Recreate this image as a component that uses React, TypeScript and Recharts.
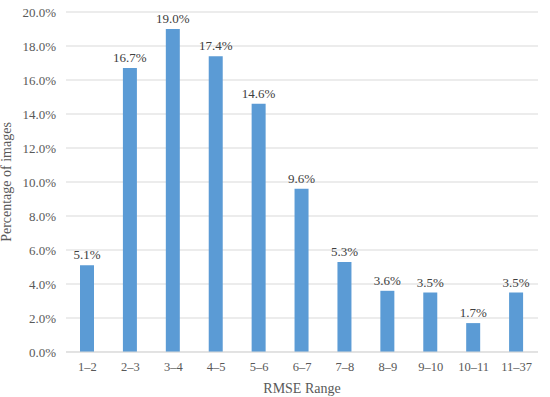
import { BarChart, Bar, XAxis, YAxis, CartesianGrid, LabelList } from 'recharts';

const ranges = ['1–2', '2–3', '3–4', '4–5', '5–6', '6–7', '7–8', '8–9', '9–10', '10–11', '11–37'];
const percentages = [5.1, 16.7, 19.0, 17.4, 14.6, 9.6, 5.3, 3.6, 3.5, 1.7, 3.5];
const yTicks = [0, 2, 4, 6, 8, 10, 12, 14, 16, 18, 20];

const data = ranges.map((range, i) => ({ range, value: percentages[i] }));

const FONT = '"Liberation Serif", "Times New Roman", serif';

export default function App() {
  return (
    <div style={{ position: 'absolute', left: 0, top: 0, width: 550, height: 397, background: '#fff' }}>
      <BarChart
        width={550}
        height={397}
        data={data}
        margin={{ top: 12, right: 12, left: 0, bottom: 0 }}
      >
        <CartesianGrid vertical={false} stroke="#d9d9d9" strokeWidth={1} />
        <XAxis
          dataKey="range"
          height={45}
          tickLine={false}
          axisLine={{ stroke: '#d9d9d9', strokeWidth: 1 }}
          tick={{ fill: '#595959', fontSize: 12.5, fontFamily: FONT }}
          tickMargin={4}
          interval={0}
          label={{
            value: 'RMSE Range',
            position: 'insideBottom',
            offset: 4,
            fill: '#595959',
            fontSize: 14,
            fontFamily: FONT,
          }}
        />
        <YAxis
          width={66}
          domain={[0, 20]}
          ticks={yTicks}
          tickLine={false}
          axisLine={false}
          tickFormatter={(v: number) => `${v.toFixed(1)}%`}
          tick={{ fill: '#595959', fontSize: 13, fontFamily: FONT }}
          tickMargin={4}
          label={{
            value: 'Percentage of images',
            angle: -90,
            position: 'insideLeft',
            offset: 6,
            style: { textAnchor: 'middle' },
            fill: '#595959',
            fontSize: 14,
            fontFamily: FONT,
          }}
        />
        <Bar dataKey="value" fill="#5b9bd5" barSize={14} isAnimationActive={false}>
          <LabelList
            dataKey="value"
            position="top"
            offset={6}
            formatter={(v: any) => `${Number(v).toFixed(1)}%`}
            style={{ fill: '#404040', fontSize: 13, fontFamily: FONT, fontWeight: 400 }}
          />
        </Bar>
      </BarChart>
    </div>
  );
}
